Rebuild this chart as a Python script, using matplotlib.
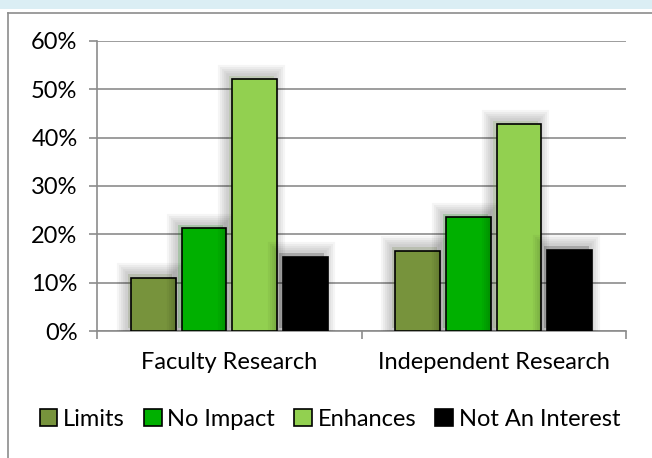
import matplotlib
matplotlib.use("Agg")
import matplotlib.pyplot as plt
import matplotlib.patheffects as pe
from matplotlib.patches import Patch, Rectangle
import numpy as np

plt.rcParams["font.family"] = ["Lato", "DejaVu Sans"]

categories = ["Faculty Research", "Independent Research"]
series = ["Limits", "No Impact", "Enhances", "Not An Interest"]
values = {
    "Limits": [11.0, 16.6],
    "No Impact": [21.3, 23.5],
    "Enhances": [52.1, 42.8],
    "Not An Interest": [15.4, 16.8],
}
colors = {
    "Limits": "#77933c",
    "No Impact": "#00b000",
    "Enhances": "#92d050",
    "Not An Interest": "#000000",
}
yticks = [0, 10, 20, 30, 40, 50, 60]

fs = 17
fig = plt.figure(figsize=(6.52, 4.58), dpi=100)

# light blue strip at the top and the chart frame
fig.patches.append(Rectangle((0, 1 - 9 / 458), 1, 9 / 458, transform=fig.transFigure,
                             facecolor="#dbeef4", edgecolor="none"))
fig.add_artist(plt.Line2D([8 / 652, 8 / 652], [0, 1 - 13 / 458], color="#8c8c8c", lw=1.2))
fig.add_artist(plt.Line2D([8 / 652, 1], [1 - 13 / 458, 1 - 13 / 458], color="#8c8c8c", lw=1.2))

ax = fig.add_axes([97 / 652, 1 - 331 / 458, (626 - 97) / 652, (331 - 41) / 458])

x = np.arange(len(categories))
slot = 0.191
width = 0.17
# soft drop shadow, mostly up and to the left
shadow = [pe.Stroke(offset=(-2.5, 2.5), linewidth=w, foreground="black", alpha=0.04)
          for w in (16, 13, 10, 7, 4)] + [pe.Normal()]

for i, s in enumerate(series):
    pos = x + (i - 1.5) * slot
    bars = ax.bar(pos, values[s], width, color=colors[s], edgecolor="black",
                  linewidth=1.2, zorder=3, label=s)
    for b in bars:
        b.set_path_effects(shadow)

ax.set_xlim(-0.5, 1.5)
ax.set_ylim(0, 60)
ax.set_yticks(yticks)
ax.set_yticklabels([f"{t}%" for t in yticks], fontsize=fs)
ax.yaxis.grid(True, color="#8c8c8c", lw=1.2, zorder=0)
ax.set_axisbelow(True)

ax.set_xticks(x)
ax.set_xticklabels(categories, fontsize=fs)
ax.tick_params(axis="x", length=0, pad=15)
ax.set_xticks([-0.5, 0.5, 1.5], minor=True)
ax.tick_params(axis="x", which="minor", length=6, color="#8c8c8c", width=1.2, direction="out")
ax.tick_params(axis="y", length=6, color="#8c8c8c", width=1.2, pad=8)

for side in ("top", "right"):
    ax.spines[side].set_visible(False)
for side in ("left", "bottom"):
    ax.spines[side].set_color("#8c8c8c")
    ax.spines[side].set_linewidth(1.2)

handles = [Patch(facecolor=colors[s], edgecolor="black", linewidth=1.2, label=s) for s in series]
fig.legend(handles=handles, loc="center", bbox_to_anchor=(330 / 652, 1 - 419 / 458), ncol=4,
           frameon=False, fontsize=fs, handlelength=0.75, handleheight=0.75,
           handletextpad=0.25, columnspacing=0.8)

fig.savefig("out.png", dpi=100)
